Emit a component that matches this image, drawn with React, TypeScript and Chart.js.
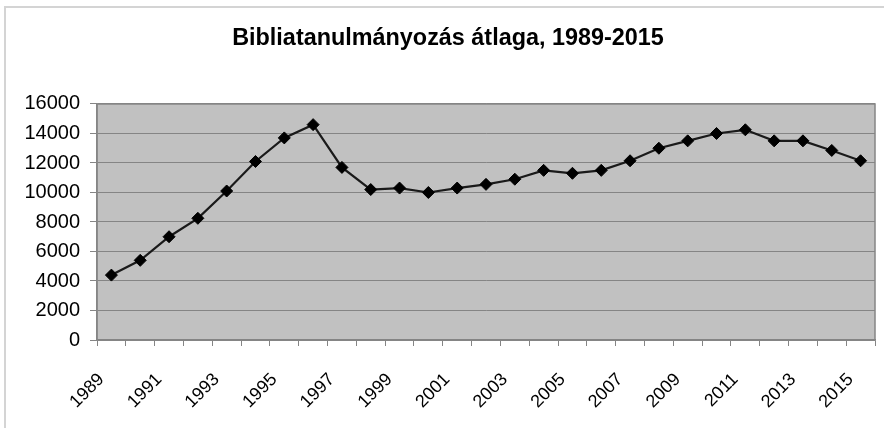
import React, { useEffect, useRef } from "react";
import { Chart, registerables } from "chart.js";

Chart.register(...registerables);

const TITLE = "Bibliatanulmányozás átlaga, 1989-2015";
const YEARS = [
  "1989", "1990", "1991", "1992", "1993", "1994", "1995", "1996", "1997",
  "1998", "1999", "2000", "2001", "2002", "2003", "2004", "2005", "2006",
  "2007", "2008", "2009", "2010", "2011", "2012", "2013", "2014", "2015",
];
const VALUES = [
  4400, 5400, 7000, 8250, 10100, 12100, 13700, 14600, 11700,
  10200, 10300, 10000, 10300, 10550, 10900, 11500, 11300, 11500,
  12150, 13000, 13500, 14000, 14250, 13500, 13500, 12850, 12150,
];
const Y_MIN = 0;
const Y_MAX = 16000;
const Y_STEP = 2000;

const FONT = "'Liberation Sans', Arial, sans-serif";

const framePlugin = {
  id: "frame",
  beforeDraw(chart: any) {
    const { ctx, chartArea } = chart;
    ctx.save();
    ctx.fillStyle = "#ffffff";
    ctx.fillRect(0, 0, chart.width, chart.height);
    ctx.strokeStyle = "#d4d4d4";
    ctx.lineWidth = 2;
    ctx.beginPath();
    ctx.moveTo(5, chart.height);
    ctx.lineTo(5, 7);
    ctx.lineTo(chart.width, 7);
    ctx.stroke();
    ctx.fillStyle = "#c1c1c1";
    ctx.fillRect(chartArea.left, chartArea.top, chartArea.right - chartArea.left, chartArea.bottom - chartArea.top);
    ctx.restore();
  },
  afterDatasetsDraw(chart: any) {
    const { ctx, chartArea } = chart;
    ctx.save();
    ctx.strokeStyle = "#858585";
    ctx.lineWidth = 1.5;
    ctx.strokeRect(chartArea.left, chartArea.top, chartArea.right - chartArea.left, chartArea.bottom - chartArea.top);
    ctx.restore();
  },
};

export default function App() {
  const ref = useRef<HTMLCanvasElement | null>(null);

  useEffect(() => {
    document.body.style.margin = "0";
    const canvas = ref.current;
    if (!canvas) return;
    const chart = new Chart(canvas, {
      type: "line",
      data: {
        labels: YEARS,
        datasets: [
          {
            data: VALUES,
            borderColor: "#1a1a1a",
            borderWidth: 2.2,
            pointStyle: "rectRot",
            pointRadius: 6,
            pointBackgroundColor: "#000000",
            pointBorderColor: "#000000",
            pointBorderWidth: 1,
            tension: 0,
          },
        ],
      },
      options: {
        responsive: false,
        animation: false,
        devicePixelRatio: 1,
        layout: { padding: { left: 21, right: 9, top: 0, bottom: 0 } },
        plugins: {
          legend: { display: false },
          tooltip: { enabled: false },
          title: {
            display: true,
            text: TITLE,
            color: "#000000",
            font: { family: FONT, size: 23.4, weight: "bold", lineHeight: 1.2 },
            padding: { top: 25, bottom: 50.9 },
          },
        },
        scales: {
          x: {
            type: "category",
            offset: true,
            grid: {
              offset: true,
              drawOnChartArea: false,
              drawTicks: true,
              tickLength: 6,
              color: "#858585",
              lineWidth: 1,
            },
            border: { display: true, color: "#858585", width: 1.5 },
            ticks: {
              autoSkip: false,
              maxRotation: 45,
              minRotation: 45,
              padding: 23,
              labelOffset: -10,
              color: "#000000",
              font: { family: FONT, size: 18 },
              callback: (_v: any, i: number) => (i % 2 === 0 ? YEARS[i] : ""),
            },
            afterFit: (scale: any) => {
              scale.height = 88;
              scale.paddingLeft = 0;
              scale.paddingRight = 0;
            },
          },
          y: {
            min: Y_MIN,
            max: Y_MAX,
            grid: {
              color: "#858585",
              lineWidth: 1,
              drawTicks: true,
              tickLength: 7,
            },
            border: { display: true, color: "#858585", width: 1.5 },
            ticks: {
              stepSize: Y_STEP,
              padding: 10,
              color: "#000000",
              font: { family: FONT, size: 20 },
              callback: (v: any) => String(v),
            },
            afterFit: (scale: any) => {
              scale.width = 76;
            },
          },
        },
      },
      plugins: [framePlugin],
    });
    return () => chart.destroy();
  }, []);

  return (
    <div style={{ width: 884, height: 428 }}>
      <canvas ref={ref} width={884} height={428} style={{ display: "block" }} />
    </div>
  );
}
